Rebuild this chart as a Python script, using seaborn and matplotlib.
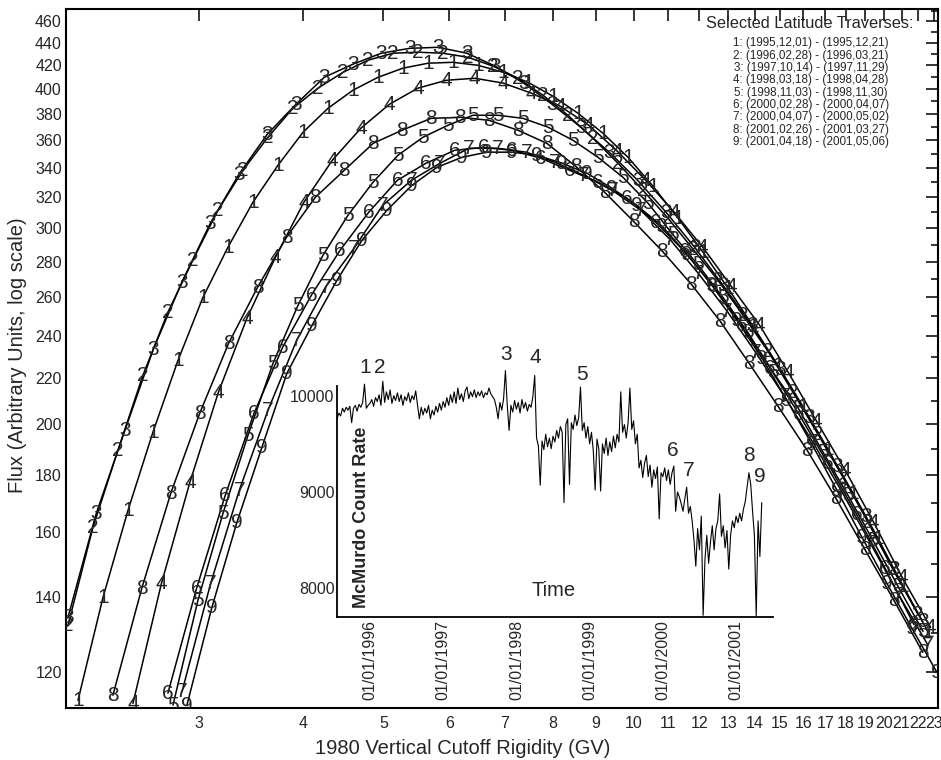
import numpy as np
import seaborn as sns
import matplotlib
matplotlib.use("Agg")
import matplotlib.pyplot as plt
from matplotlib.ticker import NullFormatter, NullLocator

sns.set_theme(style="white")
plt.rcParams['font.family'] = ['Liberation Sans', 'DejaVu Sans']

#%% data
# rigidity (GV) and flux (arbitrary units) at each plotted symbol, one pair per traverse
r1 = [2.146, 2.300, 2.465, 2.641, 2.831, 3.034, 3.251, 3.484, 3.734, 4.002, 4.289, 4.596, 4.926, 5.279, 5.657, 6.063, 6.498, 6.963,
      7.463, 7.998, 8.571, 9.185, 9.844, 10.55, 11.31, 12.12, 12.99, 13.92, 14.91, 15.98, 17.13, 18.36, 19.67, 21.08, 22.59]
f1 = [113.1, 139.9, 167.5, 196.8, 228.3, 260.1, 288.4, 316.5, 341.6, 365.7, 384.3, 398.9, 409.7, 417.5, 421.8, 422.6, 420.0, 414.0,
      405.5, 394.0, 380.4, 365.0, 347.3, 327.2, 306.2, 285.4, 265.0, 245.0, 226.0, 207.6, 190.0, 173.5, 158.1, 143.2, 130.4]

r2 = [2.087, 2.237, 2.397, 2.569, 2.753, 2.950, 3.162, 3.389, 3.632, 3.892, 4.171, 4.470, 4.791, 5.134, 5.502, 5.897, 6.320, 6.773,
      7.258, 7.779, 8.336, 8.934, 9.575, 10.26, 11.00, 11.79, 12.63, 13.54, 14.51, 15.55, 16.66, 17.86, 19.14, 20.51, 21.98]
f2 = [132.0, 161.7, 189.6, 221.4, 252.2, 280.8, 311.3, 338.1, 362.0, 384.3, 400.6, 413.9, 424.4, 430.6, 431.5, 430.6, 427.0, 419.3,
      408.9, 394.8, 378.8, 361.2, 343.1, 324.4, 306.2, 287.2, 269.4, 250.6, 232.6, 213.7, 196.0, 179.3, 163.4, 148.2, 135.1]

r3 = [2.087, 2.258, 2.444, 2.644, 2.861, 3.096, 3.351, 3.626, 3.923, 4.245, 4.594, 4.971, 5.379, 5.821, 6.299, 6.816, 7.376, 7.981,
      8.637, 9.346, 10.11, 10.94, 11.84, 12.81, 13.87, 15.00, 16.24, 17.57, 19.01, 20.57, 22.26]
f3 = [134.2, 166.5, 197.6, 233.6, 268.3, 303.0, 335.3, 364.3, 387.4, 409.7, 420.9, 430.6, 435.0, 435.9, 430.6, 419.3, 404.8, 387.4,
      369.6, 351.0, 331.2, 310.0, 288.4, 266.6, 245.4, 224.2, 202.9, 183.4, 165.5, 148.2, 133.1]

r4 = [2.499, 2.704, 2.926, 3.166, 3.426, 3.708, 4.012, 4.341, 4.698, 5.084, 5.501, 5.953, 6.441, 6.970, 7.542, 8.162, 8.832, 9.557,
      10.34, 11.19, 12.11, 13.10, 14.18, 15.34, 16.60, 17.97, 19.44, 21.04, 22.76]
f4 = [112.4, 144.0, 177.5, 213.7, 249.0, 282.5, 316.5, 345.2, 368.8, 387.5, 400.6, 407.2, 408.9, 404.8, 396.4, 385.9, 371.1, 351.7,
      331.2, 310.0, 288.4, 266.1, 245.4, 222.8, 201.3, 181.9, 163.4, 145.8, 131.5]

r5 = [2.792, 2.992, 3.207, 3.437, 3.683, 3.947, 4.230, 4.533, 4.858, 5.207, 5.580, 5.980, 6.409, 6.868, 7.361, 7.889, 8.454, 9.060,
      9.710, 10.41, 11.15, 11.95, 12.81, 13.73, 14.71, 15.77, 16.90, 18.11, 19.41, 20.80, 22.29]
f5 = [112.0, 139.1, 166.5, 195.6, 226.9, 255.8, 283.7, 308.1, 329.8, 348.8, 362.0, 371.1, 378.8, 378.8, 376.4, 369.6, 359.7, 347.3,
      333.2, 315.8, 296.0, 278.1, 259.9, 241.7, 222.8, 206.9, 188.8, 172.7, 157.3, 143.1, 130.4]

r6 = [2.753, 2.981, 3.227, 3.494, 3.783, 4.096, 4.435, 4.801, 5.198, 5.628, 6.094, 6.598, 7.143, 7.734, 8.374, 9.066, 9.816, 10.63,
      11.51, 12.46, 13.49, 14.60, 15.81, 17.12, 18.54, 20.07, 21.73]
f6 = [114.8, 142.6, 172.8, 204.6, 234.6, 261.2, 286.6, 310.0, 331.2, 343.1, 352.4, 354.5, 352.4, 346.6, 338.1, 329.8, 319.1, 303.7,
      286.0, 266.1, 245.4, 224.6, 204.2, 184.6, 166.1, 148.5, 132.3]

r7 = [2.862, 3.099, 3.355, 3.632, 3.933, 4.258, 4.610, 4.991, 5.404, 5.851, 6.335, 6.859, 7.426, 8.040, 8.705, 9.425, 10.20, 11.05,
      11.96, 12.95, 14.02, 15.18, 16.44, 17.80, 19.27, 20.86, 22.59]
f7 = [115.1, 144.0, 174.6, 205.9, 238.0, 265.5, 287.8, 314.5, 331.2, 343.1, 353.8, 353.8, 351.0, 343.8, 334.6, 324.4, 311.3, 293.3,
      273.3, 252.8, 232.1, 212.0, 192.6, 174.1, 156.4, 140.5, 126.8]

r8 = [2.364, 2.561, 2.775, 3.006, 3.257, 3.529, 3.823, 4.142, 4.487, 4.861, 5.267, 5.706, 6.182, 6.697, 7.256, 7.861, 8.517, 9.227,
      9.996, 10.83, 11.73, 12.71, 13.77, 14.92, 16.17, 17.51, 18.97, 20.56, 22.27]
f8 = [114.3, 142.6, 173.5, 204.6, 236.5, 265.5, 294.4, 319.8, 338.1, 357.5, 367.3, 376.4, 377.2, 374.9, 367.3, 357.5, 340.9, 323.1,
      304.3, 286.0, 267.2, 247.5, 226.9, 207.6, 189.6, 171.7, 154.5, 139.1, 124.9]

r9 = [2.902, 3.110, 3.333, 3.572, 3.828, 4.103, 4.397, 4.712, 5.050, 5.412, 5.800, 6.216, 6.662, 7.139, 7.651, 8.200, 8.788, 9.418,
      10.09, 10.82, 11.59, 12.42, 13.31, 14.27, 15.29, 16.39, 17.56, 18.82, 20.17, 21.62, 23.17]
f9 = [112.0, 137.1, 163.4, 190.8, 222.3, 245.4, 269.4, 292.6, 311.3, 327.8, 340.2, 347.3, 351.0, 351.0, 348.8, 343.1, 336.0, 325.8,
      314.5, 301.2, 284.3, 266.7, 248.0, 229.3, 210.2, 191.9, 174.6, 158.4, 144.0, 131.2, 119.8]

traverse_ids = ['1', '2', '3', '4', '5', '6', '7', '8', '9']
rigidities = [r1, r2, r3, r4, r5, r6, r7, r8, r9]
fluxes = [f1, f2, f3, f4, f5, f6, f7, f8, f9]

traverse_dates = [
    '1: (1995,12,01) - (1995,12,21)',
    '2: (1996,02,28) - (1996,03,21)',
    '3: (1997,10,14) - (1997,11,29)',
    '4: (1998,03,18) - (1998,04,28)',
    '5: (1998,11,03) - (1998,11,30)',
    '6; (2000,02,28) - (2000,04,07)',
    '7: (2000,04,07) - (2000,05,02)',
    '8: (2001,02,26) - (2001,03,27)',
    '9: (2001,04,18) - (2001,05,06)',
]

rig_ticks = [3, 4, 5, 6, 7, 8, 9, 10, 11, 12, 13, 14, 15, 16, 17, 18, 19, 20, 21, 22, 23]
flux_ticks = [120, 140, 160, 180, 200, 220, 240, 260, 280, 300, 320, 340, 360, 380, 400, 420, 440, 460]
flux_minor = [130, 150, 170, 190, 210, 230, 250, 270, 290, 310, 330, 350, 370, 390, 410, 430, 450, 470]

# McMurdo neutron monitor count rate, one value every 0.025 yr starting 1995.55
count_start = 1995.55
count_step = 0.025
counts = [
    # 1995.550 - 1995.975
    9760, 9820, 9790, 9870, 9830, 9880, 9850, 9890, 9720, 9870, 9900, 9840, 9910, 9880, 9930, 10120, 9870, 9900,
    # 1996
    9920, 9960, 9890, 9980, 9940, 10010, 9900, 10150, 9930, 10040, 9960, 10060, 9920, 10000, 9950, 10030, 9940, 10010,
    9900, 9990, 9950, 10030, 9930, 10000, 9960, 10050, 9900, 9760, 9880, 9800, 9870, 9820, 9900, 9760, 9850, 9800,
    9890, 9830, 9920, 9850,
    # 1997
    9940, 9880, 9980, 9900, 10010, 9930, 10040, 9920, 10080, 9960, 10020, 9940, 10050, 10090, 9970, 10040, 9990, 10060,
    9980, 10040, 10000, 10050, 9980, 10030, 10010, 10080, 10020, 9990, 9960, 9880, 9760, 9930, 9850, 9970, 10260, 9900,
    9640, 9900, 9830, 9950,
    # 1998
    9860, 9930, 9820, 9960, 9870, 9930, 9840, 9910, 9880, 9990, 10210, 9560, 9480, 9070, 9530, 9440, 9600, 9470,
    9560, 9450, 9580, 9520, 9640, 9560, 9680, 9620, 8890, 9700, 9760, 9080, 9720, 9650, 9800, 9690, 9770, 10090,
    9640, 9720, 9560, 9680,
    # 1999
    9500, 9620, 9430, 9020, 9550, 9450, 9010, 9500, 9400, 9560, 9380, 9520, 9420, 9580, 9460, 9600, 9520, 10040,
    9620, 9700, 9560, 9720, 10080, 9650, 9740, 9500, 9600, 9250, 9330, 9150, 9300, 9380, 9160, 9280, 9050, 9230,
    9140, 9260, 8720, 9200,
    # 2000
    9160, 9250, 9120, 9230, 9080, 9200, 9270, 8800, 9000, 8950, 8880, 8800, 8930, 9050, 8780, 8850, 8700, 8500,
    8230, 8620, 8400, 8750, 7720, 8300, 8550, 8260, 8480, 8650, 8400, 8620, 8700, 8980, 8540, 8650, 8420, 8600,
    8200, 8550, 8700, 8630,
    # 2001
    8750, 8680, 8780, 8700, 8820, 8900, 9050, 9200, 9080, 8800, 8550, 7710, 8700, 8330, 8890,
]
count_years = [count_start + count_step * i for i in range(len(counts))]

# where the traverse numbers sit above the count-rate trace
inset_ids = ['1', '2', '3', '4', '5', '6', '7', '8', '9']
inset_id_year = [1995.93, 1996.14, 1997.86, 1998.26, 1998.89, 2000.13, 2000.35, 2001.18, 2001.32]
inset_id_count = [10298, 10298, 10423, 10400, 10225, 9436, 9228, 9374, 9156]

year_ticks = [1996, 1997, 1998, 1999, 2000, 2001]
year_labels = ['01/01/1996', '01/01/1997', '01/01/1998', '01/01/1999', '01/01/2000', '01/01/2001']
count_ticks = [8000, 9000, 10000]

#%% figure
W, H = 941, 760
fig = plt.figure(figsize=(W / 100, H / 100), dpi=100)


def fx(px):
    return px / W


def fy(py):
    return 1 - py / H


ax = fig.add_axes([fx(66), fy(707.7), fx(937.5) - fx(66), fy(9.3) - fy(707.7)])
ax.set_xscale('log')
ax.set_yscale('log')

for tid, r, f in zip(traverse_ids, rigidities, fluxes):
    sns.lineplot(x=r, y=f, ax=ax, color='black', linewidth=1.1, sort=False, estimator=None, legend=False)
    for xi, yi in zip(r, f):
        ax.text(xi, yi, tid, fontsize=15, ha='center', va='center', clip_on=True)

ax.set_xlim(2.076, 23.2)
ax.set_ylim(111.4, 471.5)
ax.set_xticks(rig_ticks, [str(t) for t in rig_ticks])
ax.xaxis.set_minor_locator(NullLocator())
ax.set_yticks(flux_ticks, [str(t) for t in flux_ticks])
ax.set_yticks(flux_minor, minor=True)
ax.yaxis.set_minor_formatter(NullFormatter())
ax.tick_params(which='both', direction='in', top=True, right=True, width=1.1, color='black')
ax.tick_params(which='major', length=8.6)
ax.tick_params(which='minor', length=5)
ax.tick_params(axis='x', pad=6, labelsize=11.5)
ax.tick_params(axis='y', pad=3, labelsize=11.5)
ax.set_xlabel('')
ax.set_ylabel('')
for sp in ax.spines.values():
    sp.set_color('black')
    sp.set_linewidth(1.5)

fig.text(fx(463), fy(748), '1980 Vertical Cutoff Rigidity (GV)', fontsize=14.5, ha='center', va='center')
fig.text(fx(18), fy(355), 'Flux (Arbitrary Units, log scale)', fontsize=14.5, ha='center', va='center',
         rotation=90)

# list of traverses, top right
fig.text(fx(810), fy(23), 'Selected Latitude Traverses:', fontsize=11.8, ha='center', va='center')
line_y = [43.3, 56, 68.3, 80, 92.7, 105, 117.3, 130, 141.7]
for txt, py in zip(traverse_dates, line_y):
    fig.text(fx(811), fy(py), txt, fontsize=8.4, ha='center', va='center')

#%% inset: McMurdo count rate
ax2 = fig.add_axes([fx(337.3), fy(617), fx(772.7) - fx(337.3), fy(385.7) - fy(617)])
ax2.set_facecolor('none')
sns.lineplot(x=count_years, y=counts, ax=ax2, color='black', linewidth=0.8, sort=False, estimator=None, legend=False)
for ln in ax2.lines:
    ln.set_clip_on(False)
ax2.set_xlim(1995.554, 2001.49)
ax2.set_ylim(7702, 10104)
ax2.spines['top'].set_visible(False)
ax2.spines['right'].set_visible(False)
for s in ['left', 'bottom']:
    ax2.spines[s].set_color('black')
    ax2.spines[s].set_linewidth(1.3)
ax2.set_xticks(year_ticks, year_labels, rotation=90)
ax2.set_xticks([y + q for y in range(1995, 2002) for q in (0.0, 0.25, 0.5, 0.75)
                if 1995.6 < y + q < 2001.6 and q != 0.0], minor=True)
ax2.set_yticks(count_ticks, [str(t) for t in count_ticks])
ax2.tick_params(which='both', direction='in', width=1.0, color='black', labelsize=11.5, pad=2)
ax2.tick_params(axis='x', which='major', length=10)
ax2.tick_params(axis='x', which='minor', length=6.5)
ax2.tick_params(axis='y', which='major', length=8)
ax2.set_xlabel('')
ax2.set_ylabel('')

for tid, yr, cnt in zip(inset_ids, inset_id_year, inset_id_count):
    ax2.text(yr, cnt, tid, fontsize=15, ha='center', va='center', clip_on=False)

fig.text(fx(554), fy(590), 'Time', fontsize=14.5, ha='center', va='center')
fig.text(fx(361), fy(517), 'McMurdo Count Rate', fontsize=13, fontweight='bold', ha='center', va='center',
         rotation=90)

fig.savefig('out.png', dpi=100)
